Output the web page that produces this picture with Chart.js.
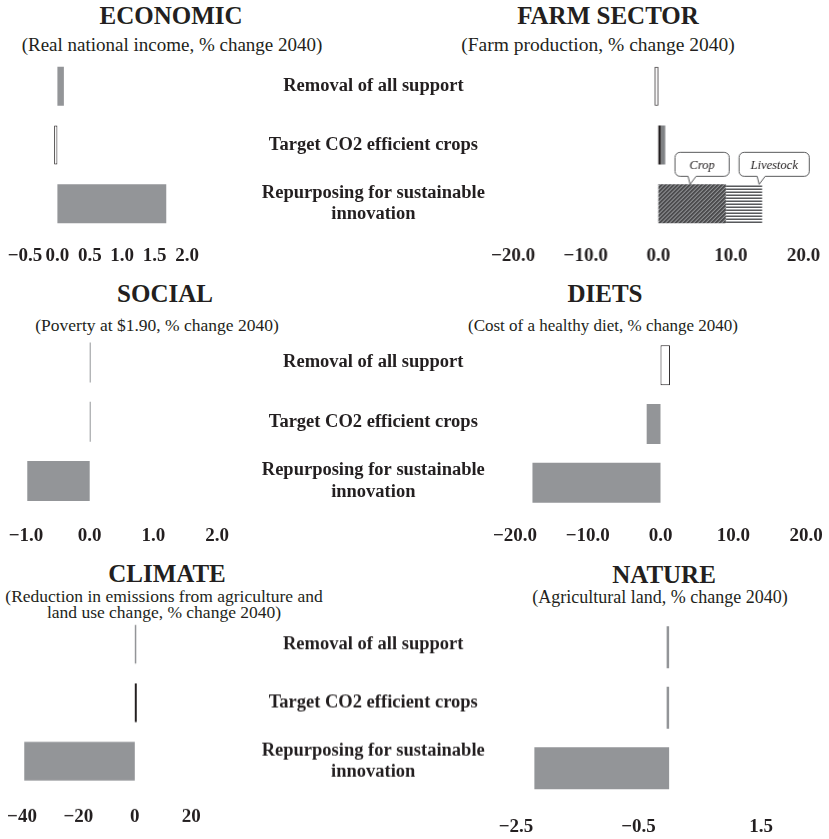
<!DOCTYPE html>
<html>
<head>
<meta charset="utf-8">
<script src="https://cdn.jsdelivr.net/npm/chart.js@4.4.0/dist/chart.umd.min.js"></script>
<style>
  html, body { margin: 0; padding: 0; background: #fff; overflow: hidden; }
  body { width: 829px; height: 839px; position: relative; font-family: "Liberation Serif", serif; color: #231f20; }
  .box { position: absolute; }
  .title { position: absolute; width: 400px; text-align: center; font-weight: bold; font-size: 25px; line-height: 25px; white-space: nowrap; }
  .sub { position: absolute; width: 400px; text-align: center; white-space: nowrap; }
</style>
</head>
<body>
<div class="title" style="left:-29px; top:3px;">ECONOMIC</div>
<div class="sub" style="left:-28px; top:35px; font-size:19px; line-height:19px;">(Real national income, % change 2040)</div>
<div class="title" style="left:408px; top:3px;">FARM SECTOR</div>
<div class="sub" style="left:398px; top:35px; font-size:19.5px; line-height:19.5px;">(Farm production, % change 2040)</div>

<div class="title" style="left:-35px; top:281px;">SOCIAL</div>
<div class="sub" style="left:-43px; top:317px; font-size:17.5px; line-height:17.5px;">(Poverty at $1.90, % change 2040)</div>
<div class="title" style="left:405px; top:281px;">DIETS</div>
<div class="sub" style="left:403px; top:317px; font-size:17px; line-height:17px;">(Cost of a healthy diet, % change 2040)</div>

<div class="title" style="left:-33px; top:561px;">CLIMATE</div>
<div class="sub" style="left:-36px; top:588px; font-size:17.5px; line-height:16px;">(Reduction in emissions from agriculture and<br>land use change, % change 2040)</div>
<div class="title" style="left:464px; top:562px;">NATURE</div>
<div class="sub" style="left:460px; top:588px; font-size:18px; line-height:18px;">(Agricultural land, % change 2040)</div>

<div class="box"><canvas id="economic"></canvas></div>
<div class="box"><canvas id="farm"></canvas></div>
<div class="box"><canvas id="social"></canvas></div>
<div class="box"><canvas id="diets"></canvas></div>
<div class="box"><canvas id="climate"></canvas></div>
<div class="box"><canvas id="nature"></canvas></div>

<script>
// scenarios (shared rows)
const categories = [
    'Removal of all support',
    'Target CO2 efficient crops',
    ['Repurposing for sustainable', 'innovation']
];

// values, % change 2040
const economicValues = [0.1, -0.05, 1.68];
const economicTicks = [-0.5, 0, 0.5, 1, 1.5, 2];

const farmTotal = [-0.5, null, null];
const farmCrop = [null, 0.35, 9.3];
const farmLivestock = [null, 0.6, 5.0];
const farmTicks = [-20, -10, 0, 10, 20];
const calloutLabels = ['Crop', 'Livestock'];

const socialValues = [0.01, 0.01, -0.98];
const socialTicks = [-1, 0, 1, 2];

const dietsValues = [1.3, -1.9, -17.6];
const dietsTicks = [-20, -10, 0, 10, 20];

const climateValues = [0.4, 0.7, -39.2];
const climateTicks = [-40, -20, 0, 20];

const natureValues = [-0.04, -0.03, -2.2];
const natureTicks = [-2.5, -0.5, 1.5];

const GREY = '#939598';
const INK = '#231f20';
const FAMILY = '"Liberation Serif", serif';
const TICK_SIZE = 19;
const LABEL_SIZE = 18.5;
const LABEL_CENTER = 373;
const LABEL_EDGE = 520;
const PAD_X = 40;
const PAD_TOP = 30;

Chart.defaults.font.family = FAMILY;
Chart.defaults.color = INK;

function makePattern(w, h, paint) {
    const c = document.createElement('canvas');
    c.width = w;
    c.height = h;
    const g = c.getContext('2d');
    paint(g);
    return g.createPattern(c, 'repeat');
}

const cropHatch = makePattern(4, 4, g => {
    g.fillStyle = '#4d4d4f';
    g.fillRect(0, 0, 4, 4);
    g.strokeStyle = '#a7a9ac';
    g.lineWidth = 1;
    [[-2, 2, 2, -2], [0, 4, 4, 0], [2, 6, 6, 2]].forEach(l => {
        g.beginPath();
        g.moveTo(l[0], l[1]);
        g.lineTo(l[2], l[3]);
        g.stroke();
    });
});

const livestockStripes = makePattern(2, 3, g => {
    g.fillStyle = '#58595b';
    g.fillRect(0, 0, 2, 1);
    g.fillStyle = '#ffffff';
    g.fillRect(0, 1, 2, 1);
    g.fillStyle = '#a7a9ac';
    g.fillRect(0, 2, 2, 1);
});

// widest category line, to centre the labels between the two columns
const mctx = document.createElement('canvas').getContext('2d');
mctx.font = 'bold ' + LABEL_SIZE + 'px ' + FAMILY;
const widest = Math.max(...categories.flat().map(t => mctx.measureText(t).width));

const fmt = decimals => v => (v < 0 ? '\u2212' : '') + Math.abs(v).toFixed(decimals);

function drawCallout(ctx, text, tipX, tipY, leftOff, w) {
    const h = 24, r = 5;
    const x0 = tipX - leftOff;
    const y1 = tipY - 8;
    const y0 = y1 - h;
    ctx.save();
    ctx.beginPath();
    ctx.moveTo(x0 + r, y0);
    ctx.lineTo(x0 + w - r, y0);
    ctx.arcTo(x0 + w, y0, x0 + w, y0 + r, r);
    ctx.lineTo(x0 + w, y1 - r);
    ctx.arcTo(x0 + w, y1, x0 + w - r, y1, r);
    ctx.lineTo(tipX + 6, y1);
    ctx.lineTo(tipX, tipY);
    ctx.lineTo(tipX - 2, y1);
    ctx.lineTo(x0 + r, y1);
    ctx.arcTo(x0, y1, x0, y1 - r, r);
    ctx.lineTo(x0, y0 + r);
    ctx.arcTo(x0, y0, x0 + r, y0, r);
    ctx.closePath();
    ctx.fillStyle = '#fff';
    ctx.fill();
    ctx.strokeStyle = '#58595b';
    ctx.lineWidth = 1;
    ctx.stroke();
    ctx.fillStyle = INK;
    ctx.font = 'italic 12.5px ' + FAMILY;
    ctx.textAlign = 'center';
    ctx.textBaseline = 'middle';
    ctx.fillText(text, x0 + w / 2, (y0 + y1) / 2 + 1);
    ctx.restore();
}

const calloutPlugin = {
    id: 'callouts',
    afterDatasetsDraw(chart) {
        const crop = chart.getDatasetMeta(1).data[2];
        const live = chart.getDatasetMeta(2).data[2];
        const top = crop.y - crop.height / 2;
        drawCallout(chart.ctx, calloutLabels[0], (crop.base + crop.x) / 2 - 2, top, 15, 54);
        drawCallout(chart.ctx, calloutLabels[1], live.x - 3, top, 20, 70);
    }
};

function makePanel(p) {
    const canvas = document.getElementById(p.id);
    const box = canvas.parentNode;
    const areaW = p.right - p.left;
    const areaH = p.spacing * 3;
    const axisH = p.tickPad * 2 + TICK_SIZE * 1.2;
    const yW = p.labels ? LABEL_EDGE - p.right : 0;
    box.style.left = (p.left - PAD_X) + 'px';
    box.style.top = (p.top - PAD_TOP) + 'px';
    box.style.width = (PAD_X + areaW + (p.labels ? yW : PAD_X)) + 'px';
    box.style.height = (PAD_TOP + areaH + axisH) + 'px';

    p.datasets.forEach(d => {
        d.barPercentage = p.bar / p.spacing;
        d.categoryPercentage = 1;
        d.borderSkipped = false;
    });

    new Chart(canvas, {
        type: 'bar',
        data: {
            labels: categories,
            datasets: p.datasets
        },
        options: {
            indexAxis: 'y',
            responsive: true,
            maintainAspectRatio: false,
            animation: false,
            layout: {
                padding: { left: PAD_X, top: PAD_TOP, right: p.labels ? 0 : PAD_X, bottom: 0 }
            },
            plugins: {
                legend: { display: false },
                tooltip: { enabled: false }
            },
            scales: {
                x: {
                    type: 'linear',
                    min: p.min,
                    max: p.max,
                    stacked: !!p.stacked,
                    grid: { display: false, drawTicks: false },
                    border: { display: false },
                    afterBuildTicks: s => { s.ticks = p.ticks.map(v => ({ value: v })); },
                    ticks: {
                        autoSkip: false,
                        maxRotation: 0,
                        padding: p.tickPad,
                        color: INK,
                        font: { size: TICK_SIZE, weight: 'bold' },
                        callback: fmt(p.decimals)
                    }
                },
                y: {
                    position: 'right',
                    display: p.labels,
                    stacked: !!p.stacked,
                    grid: {
                        display: true,
                        drawOnChartArea: false,
                        drawTicks: true,
                        tickLength: LABEL_CENTER - p.right - widest / 2,
                        color: 'rgba(0,0,0,0)'
                    },
                    border: { display: false },
                    ticks: {
                        padding: 0,
                        crossAlign: 'center',
                        color: INK,
                        font: { size: LABEL_SIZE, weight: 'bold', lineHeight: 1.15 }
                    },
                    afterFit: s => { s.width = yW; }
                }
            }
        },
        plugins: p.plugins || []
    });
}

makePanel({
    id: 'economic', left: 24.6, right: 186.6, top: 56.6, spacing: 58.75, bar: 39, tickPad: 11,
    min: -0.5, max: 2, ticks: economicTicks, decimals: 1, labels: true,
    datasets: [{
        data: economicValues,
        backgroundColor: [GREY, '#fff', GREY],
        borderColor: INK,
        borderWidth: [0, 1, 0]
    }]
});

makePanel({
    id: 'farm', left: 513, right: 802.6, top: 56.6, spacing: 58.75, bar: 39, tickPad: 11,
    min: -20, max: 20, ticks: farmTicks, decimals: 1, labels: false, stacked: true,
    plugins: [calloutPlugin],
    datasets: [{
        label: 'Total',
        data: farmTotal,
        backgroundColor: '#fff',
        borderColor: INK,
        borderWidth: 1
    }, {
        label: calloutLabels[0],
        data: farmCrop,
        backgroundColor: [INK, INK, cropHatch],
        borderWidth: 0
    }, {
        label: calloutLabels[1],
        data: farmLivestock,
        backgroundColor: [GREY, '#808285', livestockStripes],
        borderWidth: 0
    }]
});

makePanel({
    id: 'social', left: 25.7, right: 216.8, top: 332.9, spacing: 59.25, bar: 40, tickPad: 14,
    min: -1, max: 2, ticks: socialTicks, decimals: 1, labels: true,
    datasets: [{
        data: socialValues,
        backgroundColor: GREY,
        borderWidth: 0,
        minBarLength: 1
    }]
});

makePanel({
    id: 'diets', left: 515, right: 806, top: 335.6, spacing: 58.75, bar: 40, tickPad: 12.7,
    min: -20, max: 20, ticks: dietsTicks, decimals: 1, labels: false,
    datasets: [{
        data: dietsValues,
        backgroundColor: ['#fff', GREY, GREY],
        borderColor: INK,
        borderWidth: [1, 0, 0]
    }]
});

makePanel({
    id: 'climate', left: 21.8, right: 191, top: 615, spacing: 58.25, bar: 38.5, tickPad: 15,
    min: -40, max: 20, ticks: climateTicks, decimals: 0, labels: true,
    datasets: [{
        data: climateValues,
        backgroundColor: [GREY, INK, GREY],
        borderWidth: 0,
        minBarLength: 1.5
    }]
});

makePanel({
    id: 'nature', left: 516, right: 761, top: 617, spacing: 60.5, bar: 42, tickPad: 17,
    min: -2.5, max: 1.5, ticks: natureTicks, decimals: 1, labels: false,
    datasets: [{
        data: natureValues,
        backgroundColor: GREY,
        borderWidth: 0,
        minBarLength: 2.5
    }]
});
</script>
</body>
</html>
